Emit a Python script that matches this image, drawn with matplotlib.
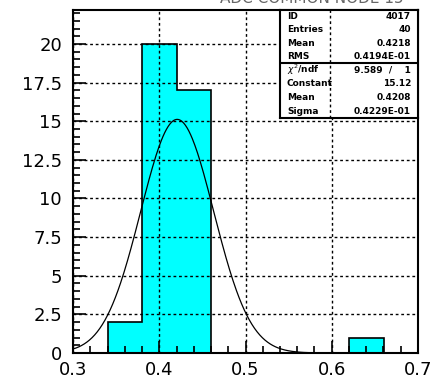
import numpy as np
import matplotlib
matplotlib.use("Agg")
import matplotlib.pyplot as plt
from matplotlib.ticker import MultipleLocator, FuncFormatter

# histogram contents (bin edges every 0.04 from 0.30 to 0.70)
bin_edges = [0.30, 0.34, 0.38, 0.42, 0.46, 0.50, 0.54, 0.58, 0.62, 0.66, 0.70]
counts = [0, 2, 20, 17, 0, 0, 0, 0, 1, 0]

# gaussian fit parameters
fit_const = 15.12
fit_mean = 0.4208
fit_sigma = 0.04229

stats_top = [("ID", "4017"), ("Entries", "40"), ("Mean", "0.4218"), ("RMS", "0.4194E-01")]
stats_fit = [(r"$\chi^2$/ndf", "9.589  /    1"), ("Constant", "15.12"),
             ("Mean", "0.4208"), ("Sigma", "0.4229E-01")]

fig = plt.figure(figsize=(4.33, 3.79), dpi=100)
ax = fig.add_axes([73 / 433, 1 - 353 / 379, 345 / 433, 343 / 379])

ax.hist(bin_edges[:-1], bins=bin_edges, weights=counts, histtype="stepfilled",
        facecolor="#00ffff", edgecolor="black", linewidth=1.2, zorder=2)

xs = np.linspace(0.3, 0.7, 400)
ax.plot(xs, fit_const * np.exp(-0.5 * ((xs - fit_mean) / fit_sigma) ** 2),
        color="black", linewidth=0.9, zorder=4)

ax.set_xlim(0.3, 0.7)
ax.set_ylim(0, 22.2)
ax.xaxis.set_major_locator(MultipleLocator(0.1))
ax.xaxis.set_minor_locator(MultipleLocator(0.02))
ax.yaxis.set_major_locator(MultipleLocator(2.5))
ax.yaxis.set_minor_locator(MultipleLocator(0.5))
ax.yaxis.set_major_formatter(FuncFormatter(lambda v, p: f"{v:g}"))
ax.xaxis.set_major_formatter(FuncFormatter(lambda v, p: f"{v:.1f}"))
ax.tick_params(which="both", direction="in", width=1.2, colors="black", labelsize=13)
ax.tick_params(which="major", length=9)
ax.tick_params(which="minor", length=5)
ax.tick_params(axis="y", which="major", pad=8)
ax.tick_params(axis="x", which="major", pad=6)
ax.grid(True, which="major", color="black", linestyle=(0, (2, 2)), linewidth=1.0, zorder=3)
ax.set_axisbelow(False)
for sp in ax.spines.values():
    sp.set_linewidth(1.5)

# clipped title at top right
fig.text(0.72, 1.005, "ADC COMMON NODE 15", ha="center", va="center",
         fontsize=11, color="#666666")

# statistics box
bx0, bx1, bmid = 280 / 433, 418 / 433, 330 / 433
by_top, by_mid, by_bot = 1 - 10 / 379, 1 - 63 / 379, 1 - 118 / 379
box = fig.add_axes([bx0, by_bot, bx1 - bx0, by_top - by_bot])
box.set_xlim(0, 1)
box.set_ylim(0, 1)
box.set_xticks([])
box.set_yticks([])
for sp in box.spines.values():
    sp.set_linewidth(1.5)
h = by_top - by_bot
ymid = (by_mid - by_bot) / h
box.axhline(ymid, color="black", linewidth=1.5)
xm = (bmid - bx0) / (bx1 - bx0)
box.axvline(xm, color="black", linewidth=1.0, linestyle=(0, (2, 2)))
rows = stats_top + stats_fit
row_h = (1 - ymid) / 4
for i, (lab, val) in enumerate(rows):
    if i < 4:
        y = 1 - (i + 0.5) * row_h
    else:
        y = ymid - (i - 4 + 0.5) * (ymid / 4)
    box.text(0.05, y, lab, ha="left", va="center", fontsize=6.5, fontweight="bold")
    box.text(0.95, y, val, ha="right", va="center", fontsize=6.5, fontweight="bold")

fig.savefig("out.png", dpi=100)
